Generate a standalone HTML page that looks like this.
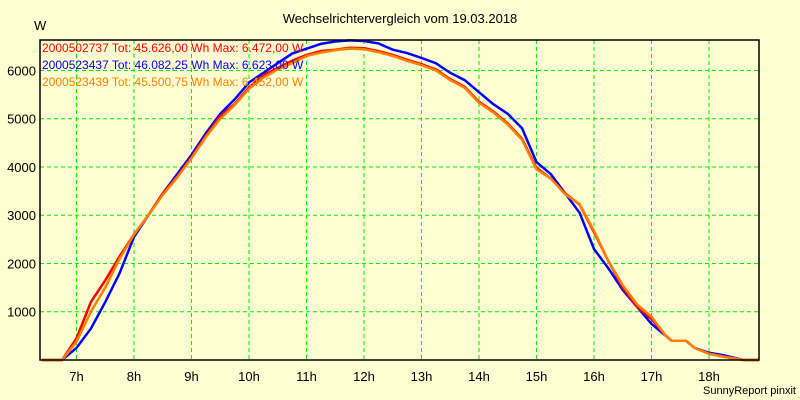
<!DOCTYPE html>
<html><head><meta charset="utf-8"><style>
body{margin:0;background:#fefed2;}
svg{display:block;font-family:"Liberation Sans",sans-serif;}
</style></head><body>
<svg id="chart" width="800" height="400">
<rect width="800" height="400" fill="#fefed2"/>
<text x="400" y="23" text-anchor="middle" font-size="13">Wechselrichtervergleich vom 19.03.2018</text>
<text x="34" y="30" font-size="13">W</text>
<text x="796" y="394" text-anchor="end" font-size="11">SunnyReport pinxit</text>
<g id="grid"></g><g id="series"></g><g id="axes"></g><g id="legend"></g>
</svg>
<script>
const hours=[6.4,6.75,7,7.25,7.5,7.75,8,8.25,8.5,8.75,9,9.25,9.5,9.75,10,10.25,10.5,10.75,11,11.25,11.5,11.75,12,12.25,12.5,12.75,13,13.25,13.5,13.75,14,14.25,14.5,14.75,15,15.25,15.5,15.75,16,16.25,16.5,16.75,17,17.25,17.35,17.6,17.75,18,18.25,18.5,18.6,18.87];
const redVals=[0,0,450,1200,1650,2150,2600,3000,3450,3800,4200,4650,5050,5300,5650,5900,6050,6200,6320,6400,6430,6470,6460,6400,6320,6220,6130,6020,5820,5660,5350,5150,4900,4580,3980,3760,3450,3220,2650,2050,1500,1100,850,500,400,400,250,130,70,20,0,0];
const blueVals=[0,0,250,650,1200,1800,2550,3000,3450,3850,4250,4700,5100,5400,5750,5950,6150,6350,6450,6550,6600,6623,6610,6560,6430,6360,6260,6150,5950,5800,5550,5300,5100,4800,4100,3850,3450,3050,2300,1900,1450,1100,750,500,400,400,250,150,100,30,0,0];
const orangeVals=[0,0,380,1000,1500,2100,2600,3000,3420,3780,4180,4620,5000,5280,5620,5850,6020,6150,6300,6370,6420,6453,6440,6380,6300,6200,6110,6000,5800,5640,5330,5130,4880,4560,3950,3760,3430,3230,2680,2050,1550,1150,900,500,400,400,250,130,70,20,0,0];
const yTicks=[1000,2000,3000,4000,5000,6000];
const xTicks=[7,8,9,10,11,12,13,14,15,16,17,18];
const legendLabels=["2000502737 Tot: 45.626,00 Wh Max: 6.472,00 W","2000523437 Tot: 46.082,25 Wh Max: 6.623,00 W","2000523439 Tot: 45.500,75 Wh Max: 6.452,00 W"];
const L=40,R=759,T=40,B=360;
const xs=h=>76.5+(h-7)*57.5;
const ys=v=>B-v*0.04826;
const NS="http://www.w3.org/2000/svg";
function mk(tag,attrs,parent){const e=document.createElementNS(NS,tag);for(const k in attrs)e.setAttribute(k,attrs[k]);parent.appendChild(e);return e;}
const grid=document.getElementById('grid'),axes=document.getElementById('axes'),ser=document.getElementById('series'),leg=document.getElementById('legend');
yTicks.forEach(v=>{
 const l=mk('line',{x1:L,x2:R,y1:ys(v),y2:ys(v),stroke:'#00ee00','stroke-dasharray':'4,3'},grid);
 
 
 const t=mk('text',{x:L-4,y:ys(v)+5,'text-anchor':'end','font-size':'13'},axes);t.textContent=v;
 
 
});
xTicks.forEach(h=>{
 const l=mk('line',{x1:xs(h),x2:xs(h),y1:T,y2:B,stroke:'#00ee00','stroke-dasharray':'4,3'},grid);
 
 
 const t=mk('text',{x:xs(h),y:B+21,'text-anchor':'middle','font-size':'13'},axes);t.textContent=h+'h';
 
 
});
const frame=mk('rect',{x:L,y:T,width:R-L,height:B-T,fill:'none',stroke:'#000','stroke-width':1.5},axes);


const series=[[blueVals,'#0000ff','series-2000523437'],[redVals,'#ff0000','series-2000502737'],[orangeVals,'#ff8000','series-2000523439']];
series.forEach(([vals,col,name])=>{
 const p=mk('polyline',{points:hours.map((h,i)=>xs(h)+','+ys(vals[i])).join(' '),fill:'none',stroke:col,'stroke-width':2.5},ser);
 
 
});
const legCols=['#ff0000','#0000ff','#ff8000'];
legendLabels.forEach((s,i)=>{
 const t=mk('text',{x:42,y:52+i*17,'font-size':'12',fill:legCols[i]},leg);t.textContent=s;
 
 
});
</script>
</body></html>
